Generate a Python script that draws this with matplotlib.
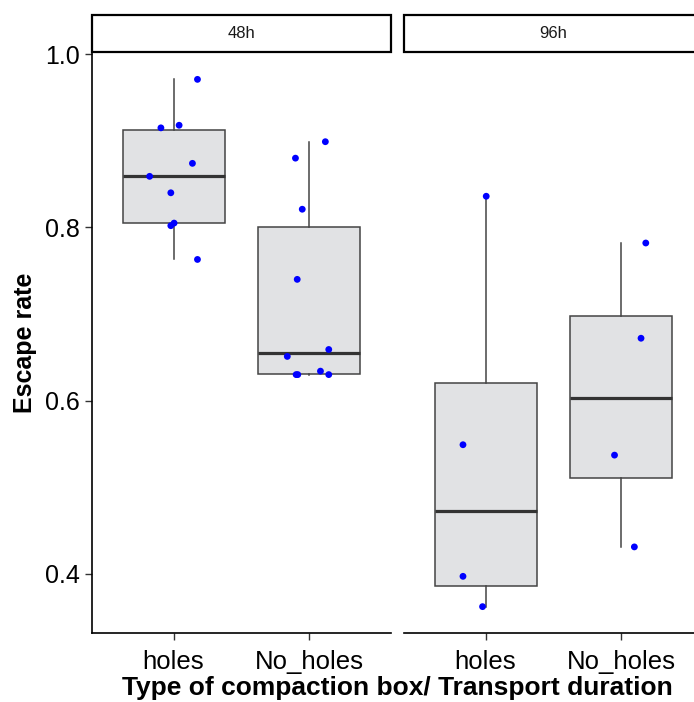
import matplotlib.pyplot as plt
from matplotlib.patches import Rectangle

plt.rcParams['font.family'] = ['Liberation Sans', 'DejaVu Sans']

# Data
durations = ["48h", "96h"]
box_types = ["holes", "No_holes"]

# escape rate of each replicate, and its horizontal jitter (category units)
rate_48_holes = [0.971, 0.915, 0.918, 0.874, 0.859, 0.840, 0.802, 0.805, 0.763]
jit_48_holes = [0.176, -0.093, 0.041, 0.139, -0.176, -0.020, -0.020, 0.004, 0.176]
rate_48_noholes = [0.899, 0.880, 0.821, 0.740, 0.659, 0.651, 0.630, 0.630, 0.634, 0.630]
jit_48_noholes = [0.117, -0.103, -0.053, -0.090, 0.142, -0.163, -0.098, -0.086, 0.081, 0.142]
rate_96_holes = [0.836, 0.549, 0.397, 0.362]
jit_96_holes = [0.005, -0.166, -0.166, -0.022]
rate_96_noholes = [0.782, 0.672, 0.537, 0.431]
jit_96_noholes = [0.179, 0.144, -0.051, 0.095]

# box statistics (lower whisker, q1, median, q3, upper whisker)
box_48_holes = [0.763, 0.805, 0.859, 0.912, 0.971]
box_48_noholes = [0.630, 0.631, 0.655, 0.800, 0.899]
box_96_holes = [0.362, 0.386, 0.472, 0.620, 0.836]
box_96_noholes = [0.431, 0.510, 0.603, 0.698, 0.782]

panels = {
    "48h": [(rate_48_holes, jit_48_holes, box_48_holes),
            (rate_48_noholes, jit_48_noholes, box_48_noholes)],
    "96h": [(rate_96_holes, jit_96_holes, box_96_holes),
            (rate_96_noholes, jit_96_noholes, box_96_noholes)],
}

all_vals = rate_48_holes + rate_48_noholes + rate_96_holes + rate_96_noholes
lo, hi = min(all_vals), max(all_vals)
pad = 0.05 * (hi - lo)

fig = plt.figure(figsize=(6.94, 7.02), dpi=100)
W, H = 694, 702

def fx(px):
    return px / W

def fy(py):
    return 1 - py / H

panel_left = [92, 404]
panel_w = 299
top, bottom = 53, 633

for i, dur in enumerate(durations):
    ax = fig.add_axes([fx(panel_left[i]), fy(bottom), panel_w / W, (bottom - top) / H])
    for j, (vals, jit, st) in enumerate(panels[dur]):
        pos = j + 1
        stats = [{"whislo": st[0], "q1": st[1], "med": st[2], "q3": st[3],
                  "whishi": st[4], "fliers": []}]
        ax.bxp(stats, positions=[pos], widths=0.75, patch_artist=True,
               showcaps=False,
               boxprops=dict(facecolor="#e1e2e4", edgecolor="#444444", linewidth=1.1),
               whiskerprops=dict(color="#444444", linewidth=1.1),
               medianprops=dict(color="#333333", linewidth=2.3),
               zorder=2)
        xs = [pos + d for d in jit]
        ax.scatter(xs, vals, s=24, color="blue", edgecolors="none", zorder=3)

    ax.set_xlim(0.4, 2.6)
    ax.set_ylim(lo - pad, hi + pad)
    ax.set_xticks([1, 2])
    ax.set_xticklabels(box_types, fontsize=18.5, color="black")
    ax.tick_params(axis="x", length=5, width=1, color="#333333", pad=7)
    for s in ["top", "right"]:
        ax.spines[s].set_visible(False)
    ax.spines["bottom"].set_linewidth(1.2)
    ax.spines["left"].set_linewidth(1.2)
    ax.set_yticks([0.4, 0.6, 0.8, 1.0])
    if i == 0:
        ax.set_yticklabels(["0.4", "0.6", "0.8", "1.0"], fontsize=18, color="black")
        ax.tick_params(axis="y", length=5, width=1, color="#333333", pad=4)
    else:
        ax.spines["left"].set_visible(False)
        ax.tick_params(axis="y", left=False, labelleft=False)

    # facet strip
    sax = fig.add_axes([fx(panel_left[i]), fy(52), panel_w / W, 37 / H])
    sax.set_xlim(0, 1)
    sax.set_ylim(0, 1)
    sax.axis("off")
    sax.add_patch(Rectangle((0, 0), 1, 1, facecolor="white", edgecolor="black",
                            linewidth=1.6, clip_on=False))
    sax.text(0.5, 0.5, dur, ha="center", va="center", fontsize=12, color="#1a1a1a")

fig.text(fx(397), fy(688), "Type of compaction box/ Transport duration",
         ha="center", va="center", fontsize=19, fontweight="bold")
fig.text(fx(25), fy(343), "Escape rate", ha="center", va="center",
         rotation=90, fontsize=18, fontweight="bold")

fig.savefig("out.png", dpi=100)
